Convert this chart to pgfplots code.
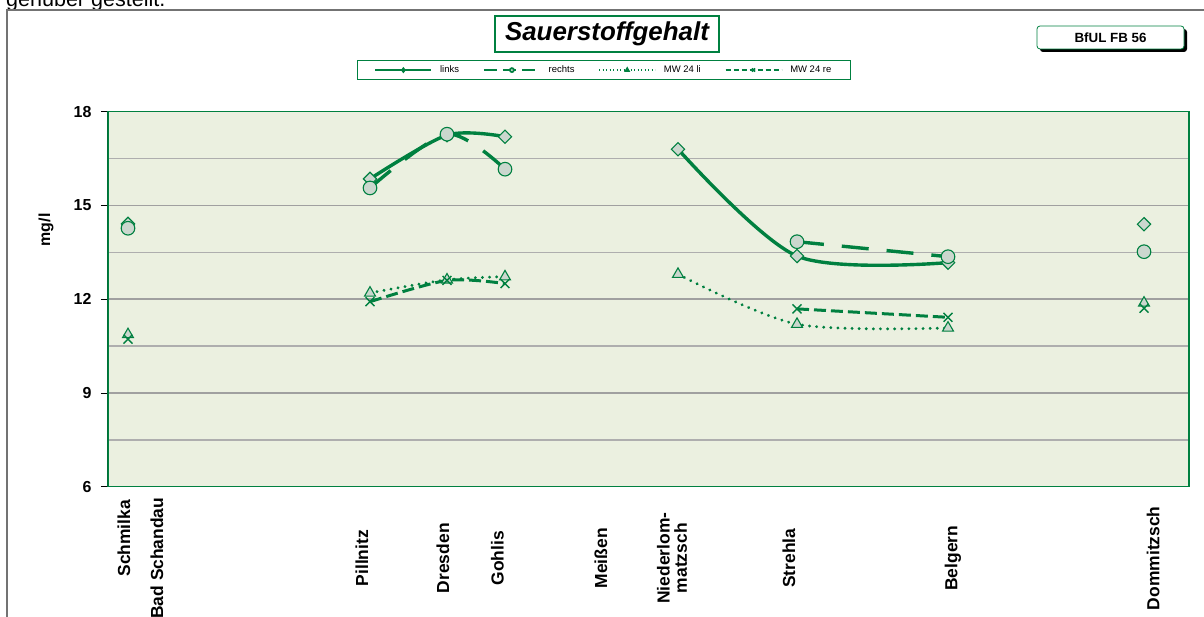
\documentclass[border=0pt]{standalone}
\usepackage{pgfplots}
\pgfplotsset{compat=1.18}
\usepackage{fontspec}
\setmainfont{Liberation Sans}
\definecolor{dgreen}{RGB}{0,128,64}
\definecolor{mfill}{RGB}{203,215,206}
\definecolor{plotbg}{RGB}{235,240,224}
\definecolor{gridgray}{RGB}{160,160,160}
\newcommand{\fs}[1]{\fontsize{#1}{#1}\selectfont}
\pgfplotsset{
  linkst/.style={dgreen, line width=3.4bp, mark=square*, mark size=4.7bp,
     mark options={solid, rotate=45, fill=mfill, draw=dgreen, line width=1.1bp}},
  rechtsst/.style={dgreen, line width=3.4bp, dash pattern=on 27bp off 18bp, mark=*, mark size=6.8bp,
     mark options={solid, fill=mfill, draw=dgreen, line width=1.1bp}},
  mwlist/.style={dgreen, line width=3.1bp, line cap=round, dash pattern=on 0.1bp off 7bp, mark=triangle*, mark size=6.3bp,
     mark options={solid, fill=mfill, draw=dgreen, line width=1.1bp}},
  mwrest/.style={dgreen, line width=3bp, dash pattern=on 12bp off 5bp, mark=x, mark size=6.3bp,
     mark options={solid, draw=dgreen, line width=1.4bp}},
}
\begin{document}
\begin{tikzpicture}
\begin{axis}[
  name=ax, at={(0,0)}, anchor=south west,
  scale only axis, width=1081bp, height=375bp,
  xmin=108, xmax=1189, ymin=6, ymax=18,
  axis background/.style={fill=plotbg},
  axis line style={draw=dgreen, line width=1.6bp},
  ytick={6,9,12,15,18}, minor ytick={7.5,10.5,13.5,16.5},
  ymajorgrids, yminorgrids,
  grid style={gridgray, line width=1.6bp},
  minor grid style={gridgray!85, line width=1.6bp},
  major tick length=7bp, minor tick length=0pt,
  tick align=outside, ytick pos=left,
  ytick style={black, line width=0.8bp},
  xtick style={draw=none},
  /pgf/number format/assume math mode=true,
  yticklabel style={font=\bfseries\fs{16}, xshift=-6bp},
  ylabel={mg/l},
  ylabel style={at={(axis description cs:-0.0574,0.685)}, anchor=center, font=\bfseries\fs{16}},
  xtick={124,157,362,443,497.5,601,672,789,953,1153},
  xticklabels={{\hspace*{40bp}Schmilka},{Bad Schandau},{Pillnitz},{Dresden},{Gohlis},{Meißen},{Niederlom-\\matzsch},{Strehla},{Belgern},{Dommitzsch}},
  xticklabel style={font=\bfseries\fs{17.5}, yshift=-64.5bp, rotate=90, anchor=center, align=center},
  legend image code/.code={\draw[mark repeat=2,mark phase=2,#1] plot coordinates {(0bp,0bp) (28bp,0bp) (56bp,0bp)}; \path (62bp,0bp);},
  legend columns=4,
  legend style={at={(axis description cs:0.4588,1.1379)}, anchor=north, draw=dgreen, line width=0.9bp, fill=white,
    font=\fs{9.5}, /tikz/every even column/.append style={column sep=22bp}, inner ysep=3.5bp, inner xsep=17bp},
  legend cell align=left,
]
\addlegendimage{dgreen, line width=1.5bp, mark=diamond*, mark size=2bp, mark options={solid, fill=dgreen}}
\addlegendentry{links}
\addlegendimage{dgreen, line width=1.7bp, dash pattern=on 13bp off 6bp, mark=*, mark size=2bp, mark options={solid, fill=mfill}}
\addlegendentry{rechts}
\addlegendimage{dgreen, line width=1.4bp, dash pattern=on 1bp off 2.5bp, mark=triangle*, mark size=2.2bp, mark options={solid, fill=dgreen}}
\addlegendentry{MW 24 li}
\addlegendimage{dgreen, line width=1.6bp, dash pattern=on 5bp off 3bp, mark=x, mark size=2.2bp, mark options={solid}}
\addlegendentry{MW 24 re}
% links
\addplot[linkst, only marks, forget plot] coordinates {(128,14.41)};
\addplot[linkst, smooth, forget plot] coordinates {(370,15.85) (447,17.25) (505,17.2)};
\addplot[linkst, smooth, forget plot] coordinates {(678,16.8) (797,13.38) (948,13.17)};
\addplot[linkst, only marks, forget plot] coordinates {(1144,14.4)};
% rechts
\addplot[rechtsst, only marks, forget plot] coordinates {(128,14.27)};
\addplot[rechtsst, smooth, forget plot] coordinates {(370,15.56) (447,17.28) (505,16.16)};
\addplot[rechtsst, smooth, forget plot] coordinates {(797,13.84) (948,13.36)};
\addplot[rechtsst, only marks, forget plot] coordinates {(1144,13.52)};
% MW 24 li
\addplot[mwlist, only marks, forget plot] coordinates {(128,10.87)};
\addplot[mwlist, smooth, forget plot] coordinates {(370,12.2) (447,12.62) (505,12.72)};
\addplot[mwlist, smooth, forget plot] coordinates {(678,12.8) (797,11.2) (948,11.08)};
\addplot[mwlist, only marks, forget plot] coordinates {(1144,11.88)};
% MW 24 re
\addplot[mwrest, only marks, forget plot] coordinates {(128,10.72)};
\addplot[mwrest, smooth, forget plot] coordinates {(370,11.92) (447,12.6) (505,12.5)};
\addplot[mwrest, smooth, forget plot] coordinates {(797,11.69) (948,11.42)};
\addplot[mwrest, only marks, forget plot] coordinates {(1144,11.71)};
\draw[black, line width=1bp] (rel axis cs:0,0) -- (rel axis cs:0,1);
\end{axis}
\begin{scope}[shift={(ax.south west)}, x=1bp, y=1bp, shift={(-108,-130.3)}]
\node[anchor=base west, inner sep=0, font=\fs{21.6}] at (6,610.5) {genüber gestellt.};
\draw[gray!90!black, line width=1.5bp] (7,-5) -- (7,607) -- (1210,607);
\node[draw=dgreen, line width=2.7bp, fill=white, font=\bfseries\itshape\fs{26}, minimum width=224bp, minimum height=36bp, inner sep=0] at (607,583) {Sauerstoffgehalt};
\fill[black, rounded corners=3bp] (1040,565) rectangle (1187,588);
\draw[dgreen, fill=white, rounded corners=3bp, line width=0.8bp] (1037,568) rectangle (1184,591);
\node[font=\bfseries\fs{13.4}] at (1110.5,579.5) {BfUL FB 56};
\pgfresetboundingbox
\useasboundingbox (0,0) rectangle (1204,617);
\end{scope}
\end{tikzpicture}
\end{document}
